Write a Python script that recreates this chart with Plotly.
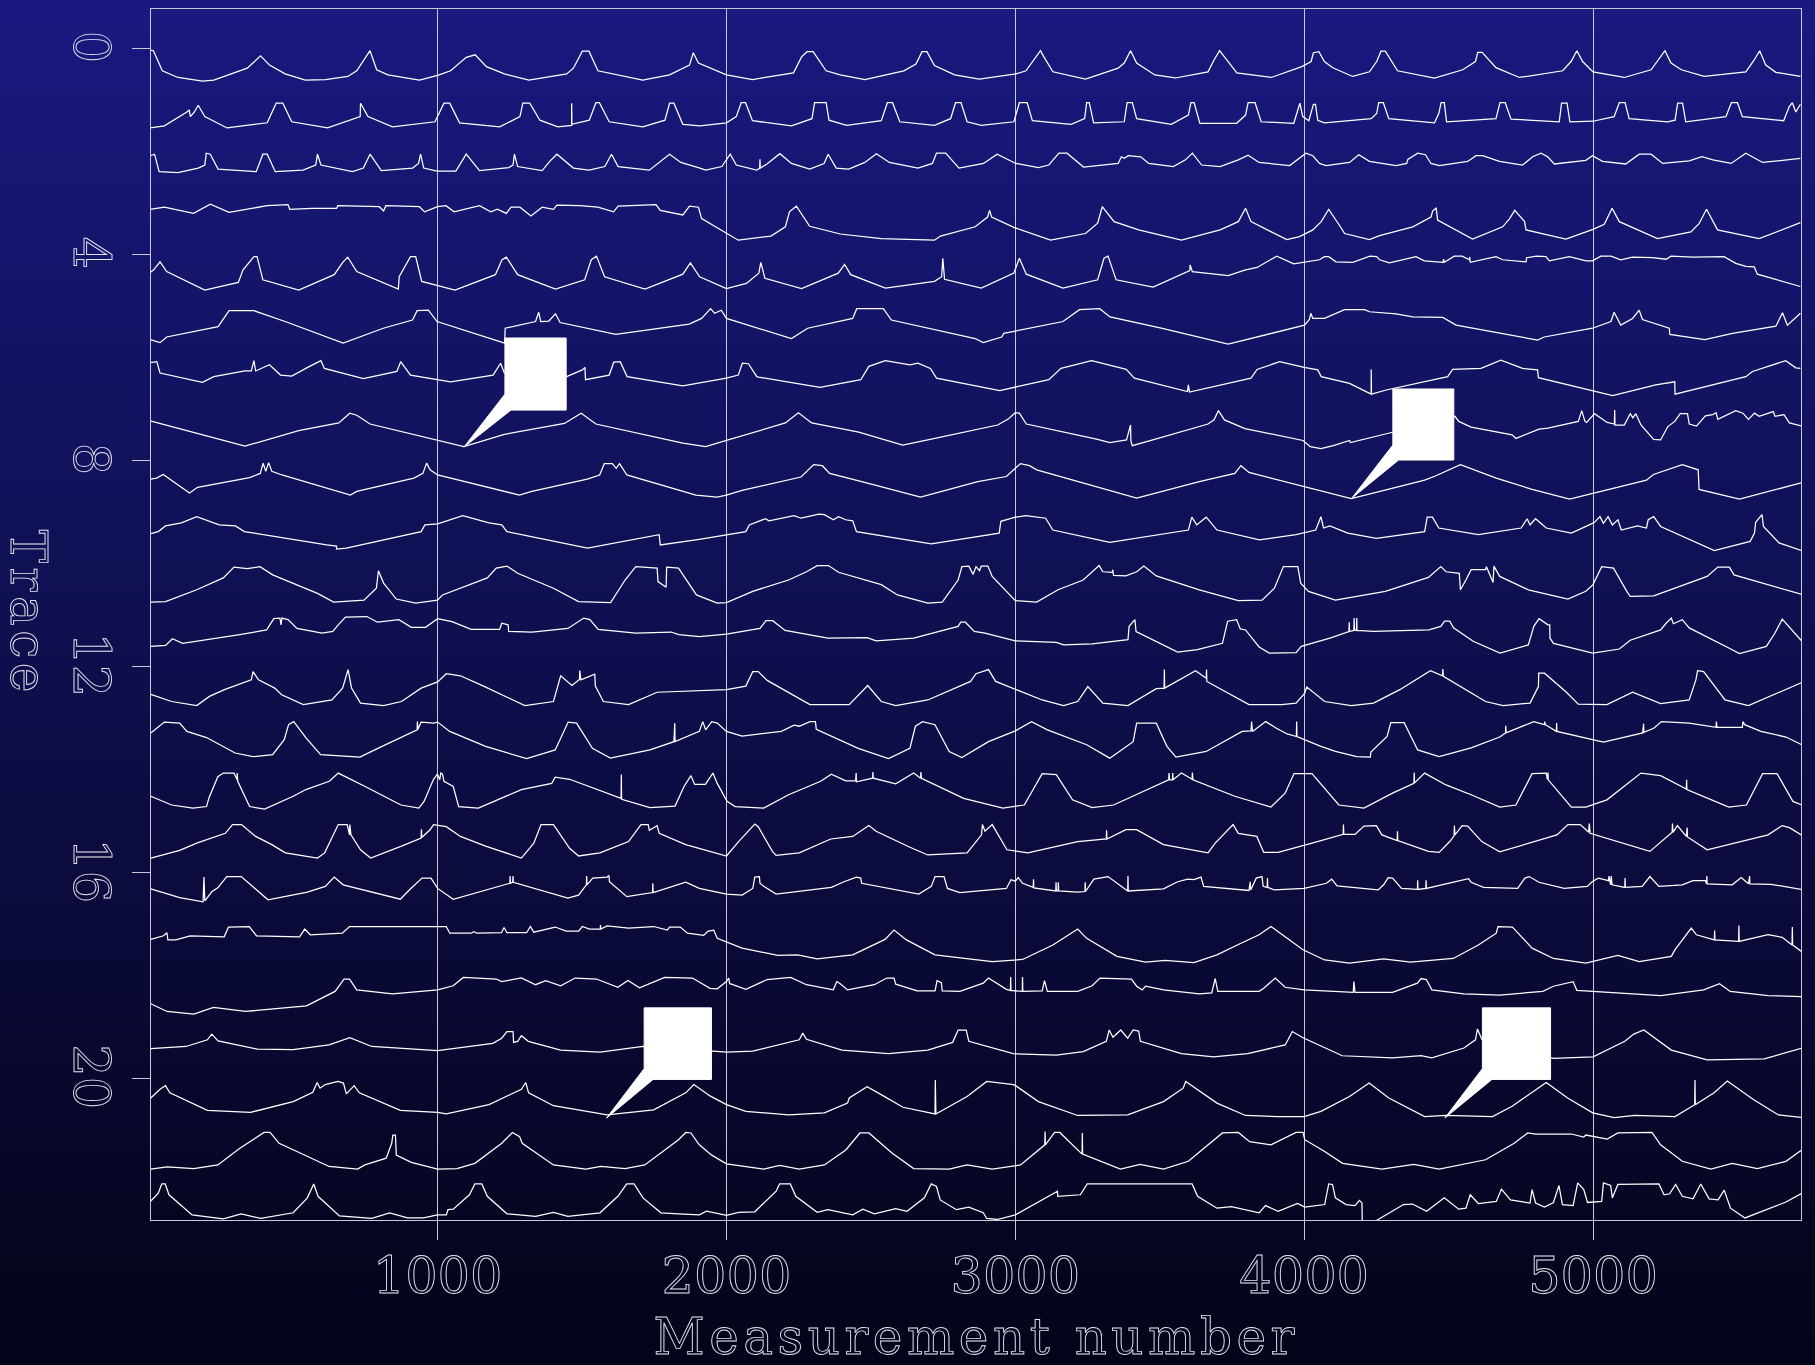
import plotly.graph_objects as go

# Each trace: (measurement number, offset below the trace's baseline tick in hundredths of a trace unit)
trace_00 = [(5,3),(16,4),(47,43),(101,56),(186,63),(225,61),(341,38),(387,14),(418,32),(472,49),(542,61),(612,60),(689,54),(720,43),(766,4),(789,41),(828,51),(937,61),(1000,52),(1045,43),(1099,17),(1130,12),(1169,35),(1231,49),(1316,61),(1447,49),(1470,38),(1501,5),(1524,5),(1555,43),(1710,61),(1803,51),(1872,32),(1885,8),(1903,28),(2000,51),(2090,60),(2232,47),(2260,16),(2279,6),(2300,6),(2345,43),(2394,51),(2479,60),(2614,43),(2656,30),(2677,6),(2694,6),(2720,33),(2790,51),(2875,59),(3002,49),(3037,43),(3066,19),(3087,4),(3102,19),(3130,45),(3243,59),(3356,38),(3377,28),(3399,4),(3420,28),(3483,51),(3554,57),(3667,45),(3688,22),(3707,4),(3724,16),(3767,47),(3886,56),(3992,35),(4024,25),(4032,8),(4051,6),(4070,25),(4099,37),(4168,54),(4226,45),(4251,25),(4266,5),(4281,5),(4323,43),(4451,57),(4549,41),(4593,25),(4601,7),(4616,7),(4664,37),(4745,56),(4895,43),(4924,25),(4944,4),(4964,25),(5000,45),(5108,56),(5201,41),(5235,16),(5249,4),(5270,28),(5306,41),(5385,54),(5529,45),(5558,22),(5577,4),(5598,32),(5633,46),(5718,54)]
trace_01 = [(5,54),(54,50),(132,23),(140,19),(144,32),(158,23),(171,10),(194,32),(271,54),(410,44),(441,6),(464,6),(495,42),(619,54),(732,32),(733,6),(759,32),(844,52),(991,42),(1022,6),(1042,6),(1076,44),(1215,52),(1285,32),(1295,6),(1319,6),(1354,39),(1416,52),(1464,49),(1464,6),(1465,47),(1525,39),(1548,5),(1560,5),(1594,42),(1710,52),(1787,39),(1803,6),(1818,6),(1849,47),(1908,50),(2000,44),(2034,32),(2051,5),(2066,5),(2090,40),(2225,50),(2296,36),(2305,5),(2345,5),(2355,39),(2416,49),(2536,40),(2557,5),(2575,5),(2600,42),(2720,49),(2776,36),(2793,5),(2812,5),(2833,42),(2882,49),(2995,42),(3014,5),(3041,5),(3059,40),(3193,47),(3240,36),(3247,5),(3256,5),(3271,44),(3377,42),(3387,5),(3405,5),(3420,36),(3540,47),(3599,29),(3608,5),(3619,5),(3639,45),(3766,45),(3797,29),(3806,5),(3830,5),(3851,42),(3964,45),(3985,6),(3995,32),(4016,40),(4032,8),(4039,8),(4047,39),(4070,44),(4232,36),(4251,26),(4258,5),(4274,5),(4293,36),(4451,44),(4466,26),(4474,5),(4485,5),(4493,42),(4664,36),(4678,5),(4696,5),(4716,37),(4883,42),(4891,6),(4910,6),(4920,42),(5000,41),(5073,32),(5091,5),(5111,5),(5125,36),(5258,42),(5284,39),(5293,6),(5310,6),(5321,42),(5460,32),(5479,5),(5500,5),(5517,32),(5660,40),(5679,13),(5690,5),(5702,23),(5718,8)]
trace_02 = [(5,8),(20,5),(36,39),(101,41),(171,32),(194,26),(199,3),(213,5),(240,34),(372,39),(395,5),(410,5),(438,39),(534,36),(578,26),(584,5),(596,26),(705,39),(743,32),(766,5),(805,37),(913,32),(934,23),(941,5),(952,32),(998,38),(1063,38),(1099,5),(1145,37),(1246,31),(1261,26),(1266,5),(1277,29),(1362,37),(1388,19),(1413,5),(1470,32),(1524,36),(1579,29),(1602,5),(1625,29),(1733,36),(1803,5),(1842,21),(1908,32),(1928,36),(1984,29),(2013,5),(2034,26),(2105,36),(2115,32),(2116,15),(2117,32),(2140,24),(2185,4),(2225,23),(2288,34),(2338,23),(2352,5),(2380,32),(2423,34),(2479,21),(2519,4),(2564,21),(2663,32),(2713,23),(2727,3),(2759,3),(2805,32),(2890,23),(2937,5),(3002,23),(3080,31),(3116,26),(3151,3),(3179,3),(3236,30),(3356,23),(3367,10),(3377,13),(3391,8),(3434,10),(3462,23),(3547,29),(3589,16),(3613,3),(3645,26),(3709,29),(3772,16),(3806,7),(3844,21),(3950,27),(4006,3),(4030,8),(4053,23),(4076,27),(4157,21),(4189,6),(4226,19),(4318,27),(4355,23),(4359,15),(4393,3),(4420,6),(4439,23),(4468,27),(4566,19),(4595,8),(4618,8),(4676,19),(4756,26),(4791,10),(4820,3),(4843,10),(4866,24),(4975,17),(4998,8),(5033,19),(5113,24),(5160,5),(5201,5),(5241,23),(5333,18),(5377,10),(5415,16),(5478,23),(5529,3),(5587,21),(5679,16),(5718,13)]
trace_03 = [(5,12),(54,8),(155,20),(213,2),(278,18),(410,5),(482,3),(488,12),(564,10),(650,10),(655,5),(798,7),(813,15),(821,5),(937,7),(955,17),(1000,7),(1029,5),(1057,17),(1145,5),(1184,17),(1207,12),(1238,20),(1254,8),(1285,8),(1323,25),(1362,8),(1401,12),(1413,4),(1493,5),(1555,8),(1609,17),(1625,6),(1756,3),(1771,14),(1849,23),(1872,6),(1903,8),(1914,30),(2041,72),(2154,64),(2204,46),(2218,17),(2242,6),(2288,45),(2394,60),(2536,69),(2720,72),(2741,64),(2861,46),(2904,27),(2911,14),(2918,27),(2995,47),(3122,72),(3243,59),(3285,39),(3301,7),(3342,36),(3427,52),(3575,72),(3709,52),(3772,36),(3797,10),(3816,36),(3940,71),(3984,65),(4030,52),(4059,36),(4085,12),(4122,43),(4140,59),(4226,71),(4261,63),(4376,46),(4439,27),(4445,15),(4457,10),(4462,33),(4583,70),(4687,46),(4710,31),(4729,14),(4763,36),(4768,52),(4906,70),(5000,51),(5039,41),(5066,10),(5091,36),(5223,69),(5339,56),(5367,40),(5393,12),(5431,52),(5575,69),(5718,38)]
trace_04 = [(5,35),(16,30),(39,14),(62,33),(194,69),(310,54),(326,30),(364,4),(375,4),(395,49),(519,69),(642,39),(673,14),(689,5),(720,33),(864,67),(867,43),(906,4),(924,4),(945,52),(1060,69),(1200,39),(1223,10),(1238,5),(1277,39),(1408,67),(1509,49),(1532,10),(1550,3),(1578,43),(1718,67),(1849,38),(1875,16),(1907,43),(2000,66),(2069,56),(2112,36),(2119,15),(2133,46),(2260,66),(2387,36),(2409,19),(2430,39),(2550,65),(2720,52),(2745,43),(2749,7),(2755,48),(2882,65),(2995,36),(3014,7),(3038,38),(3165,65),(3285,49),(3307,7),(3321,3),(3349,49),(3477,63),(3604,31),(3605,20),(3613,33),(3737,41),(3794,30),(3837,25),(3905,3),(3964,18),(4053,10),(4070,4),(4085,4),(4110,14),(4168,15),(4228,3),(4251,4),(4261,10),(4295,16),(4387,4),(4416,12),(4480,15),(4483,9),(4485,15),(4520,3),(4547,3),(4572,10),(4573,5),(4575,15),(4664,4),(4687,10),(4768,14),(4770,6),(4805,3),(4837,4),(4849,12),(4918,4),(4976,12),(4998,12),(5027,3),(5062,3),(5096,10),(5137,5),(5206,6),(5253,9),(5270,3),(5345,5),(5454,4),(5494,17),(5529,23),(5558,24),(5569,38),(5718,62)]
trace_05 = [(5,65),(39,71),(62,60),(240,40),(278,9),(364,9),(472,30),(673,72),(812,43),(913,27),(929,9),(968,8),(998,30),(1232,72),(1234,43),(1339,30),(1350,12),(1357,30),(1385,29),(1393,24),(1408,15),(1424,32),(1617,55),(1772,43),(1871,35),(1914,24),(1945,5),(1959,14),(1982,8),(2000,24),(2225,63),(2281,43),(2437,24),(2451,5),(2465,5),(2543,5),(2571,27),(2861,63),(2889,71),(2953,60),(2960,53),(3165,30),(3222,7),(3292,5),(3328,21),(3505,43),(3737,74),(4001,37),(4018,26),(4023,14),(4030,24),(4070,24),(4140,7),(4209,7),(4226,11),(4318,15),(4376,21),(4480,22),(4526,37),(4808,66),(4831,60),(4998,43),(5062,30),(5073,12),(5096,37),(5137,24),(5160,8),(5171,26),(5264,43),(5266,55),(5387,65),(5483,53),(5633,39),(5656,13),(5673,37),(5718,14)]
trace_06 = [(5,10),(28,8),(39,30),(186,48),(225,37),(333,26),(355,26),(364,6),(370,26),(418,14),(456,34),(495,36),(550,19),(596,6),(608,21),(743,41),(859,27),(872,8),(906,34),(1045,47),(1192,34),(1218,11),(1231,30),(1447,37),(1501,24),(1510,19),(1512,43),(1540,40),(1594,34),(1610,9),(1632,8),(1656,37),(1849,55),(2000,40),(2041,34),(2055,11),(2076,12),(2105,37),(2112,38),(2324,58),(2465,43),(2493,17),(2550,6),(2635,14),(2663,11),(2706,21),(2727,40),(2946,64),(3116,43),(3158,21),(3264,6),(3384,23),(3412,40),(3596,66),(3599,53),(3603,67),(3816,40),(3837,23),(3915,8),(4000,19),(4047,24),(4059,37),(4157,50),(4232,71),(4232,23),(4233,71),(4284,63),(4497,37),(4514,23),(4612,21),(4681,5),(4756,21),(4808,24),(4811,39),(5068,74),(5217,53),(5283,47),(5284,71),(5529,37),(5552,27),(5667,6),(5702,20),(5718,21)]
trace_07 = [(5,23),(333,72),(519,42),(658,27),(696,8),(720,12),(766,29),(1091,73),(1231,49),(1339,38),(1439,28),(1497,8),(1548,29),(1849,66),(1928,73),(2000,61),(2204,27),(2249,7),(2295,27),(2458,45),(2550,60),(2610,70),(2697,60),(2939,31),(2974,20),(3000,7),(3014,8),(3038,29),(3285,59),(3327,65),(3385,60),(3399,31),(3400,62),(3405,71),(3476,60),(3667,29),(3688,21),(3703,3),(3724,21),(3795,38),(3996,61),(4021,73),(4058,77),(4101,71),(4157,61),(4160,65),(4299,46),(4522,14),(4535,24),(4578,35),(4720,50),(4733,57),(4813,39),(4844,37),(4949,24),(4961,3),(4972,24),(4978,26),(5005,9),(5049,26),(5074,29),(5075,2),(5076,31),(5108,31),(5129,9),(5138,17),(5148,9),(5166,31),(5210,59),(5234,60),(5259,34),(5283,24),(5302,9),(5327,9),(5333,29),(5358,33),(5389,13),(5414,11),(5426,7),(5432,20),(5494,3),(5519,8),(5538,20),(5559,8),(5575,14),(5624,5),(5630,14),(5661,11),(5680,27),(5723,33)]
trace_08 = [(7,36),(27,34),(50,27),(77,38),(141,63),(169,52),(262,42),(349,33),(386,25),(396,5),(405,21),(415,4),(426,21),(461,28),(698,67),(720,60),(918,34),(949,25),(962,5),(974,18),(1000,28),(1283,67),(1326,60),(1518,36),(1561,28),(1577,6),(1605,6),(1618,15),(1630,6),(1655,28),(1894,67),(1968,71),(2000,67),(2054,58),(2258,32),(2302,8),(2332,10),(2357,25),(2475,42),(2672,71),(2870,41),(2969,31),(3000,15),(3018,6),(3049,10),(3074,18),(3420,73),(3637,41),(3760,25),(3781,10),(3809,23),(3844,28),(3996,49),(4163,74),(4417,38),(4454,30),(4541,8),(4665,34),(4789,56),(4919,75),(5185,38),(5209,27),(5309,8),(5364,18),(5367,56),(5507,75),(5723,43)]
trace_09 = [(7,42),(33,38),(58,27),(113,21),(166,9),(244,25),(300,27),(331,38),(616,64),(650,66),(650,72),(684,70),(943,38),(956,25),(1000,23),(1087,7),(1178,21),(1222,25),(1240,38),(1519,70),(1767,44),(1771,64),(1906,53),(2000,44),(2067,38),(2079,25),(2135,13),(2147,17),(2234,7),(2258,12),(2320,4),(2339,5),(2370,15),(2388,9),(2413,15),(2437,17),(2450,38),(2709,62),(2944,41),(2950,18),(3000,10),(3037,7),(3105,12),(3130,35),(3327,59),(3599,35),(3611,10),(3628,25),(3661,10),(3698,35),(3845,54),(3972,44),(4040,35),(4058,9),(4067,31),(4089,27),(4151,41),(4250,51),(4417,38),(4426,10),(4444,10),(4466,31),(4603,44),(4751,31),(4772,13),(4782,25),(4801,13),(4838,31),(4925,41),(4987,25),(5005,20),(5024,9),(5036,22),(5052,9),(5067,25),(5086,15),(5098,35),(5154,27),(5185,31),(5191,15),(5210,9),(5234,28),(5420,75),(5544,57),(5559,41),(5563,20),(5585,5),(5590,28),(5644,60),(5723,75)]
trace_10 = [(7,75),(58,74),(166,51),(258,28),(295,7),(341,10),(385,6),(429,22),(584,58),(640,75),(745,71),(788,48),(795,14),(813,38),(857,69),(924,77),(1000,71),(1017,61),(1172,28),(1203,9),(1240,5),(1277,19),(1401,48),(1488,74),(1599,76),(1649,32),(1686,6),(1760,9),(1763,35),(1791,46),(1793,7),(1834,9),(1896,61),(1968,77),(2000,76),(2091,54),(2215,32),(2277,16),(2314,4),(2353,4),(2388,17),(2536,41),(2592,61),(2697,77),(2747,75),(2802,32),(2815,6),(2839,5),(2854,21),(2864,6),(2876,14),(2882,5),(2905,5),(2920,25),(3000,72),(3074,75),(3148,51),(3235,32),(3290,4),(3303,16),(3336,17),(3337,12),(3340,23),(3383,24),(3420,16),(3445,5),(3488,24),(3637,51),(3772,72),(3854,71),(3897,48),(3928,6),(3978,6),(3988,38),(4015,54),(4108,71),(4281,54),(4430,27),(4473,6),(4491,16),(4537,19),(4541,51),(4560,32),(4578,12),(4628,12),(4631,6),(4639,17),(4654,37),(4657,5),(4677,25),(4776,51),(4913,69),(4975,54),(5000,41),(5030,6),(5071,9),(5117,54),(5129,64),(5210,63),(5395,25),(5432,7),(5472,7),(5488,22),(5723,60)]
trace_11 = [(7,61),(58,59),(82,46),(117,55),(315,38),(408,29),(433,7),(454,6),(458,19),(461,6),(482,9),(513,26),(600,35),(637,32),(656,19),(681,4),(755,3),(792,14),(866,9),(909,24),(958,24),(1000,7),(1050,13),(1116,28),(1215,28),(1222,16),(1244,19),(1246,32),(1327,33),(1451,26),(1506,6),(1527,9),(1556,28),(1686,35),(1808,33),(1835,38),(1906,42),(2000,37),(2116,26),(2137,11),(2160,11),(2203,30),(2351,45),(2487,44),(2518,50),(2648,45),(2802,22),(2811,14),(2827,14),(2858,32),(2895,35),(3000,50),(3142,53),(3167,58),(3266,56),(3390,48),(3394,22),(3414,9),(3418,32),(3562,72),(3630,67),(3717,55),(3735,12),(3766,9),(3779,27),(3797,29),(3844,62),(3879,74),(3972,73),(3990,61),(4089,45),(4155,32),(4156,14),(4157,32),(4172,30),(4173,6),(4174,29),(4181,30),(4182,6),(4183,30),(4240,32),(4432,29),(4473,22),(4486,12),(4504,12),(4517,25),(4585,51),(4678,74),(4776,58),(4795,22),(4813,7),(4844,19),(4850,19),(4851,45),(4863,55),(4999,74),(5091,66),(5129,49),(5234,29),(5253,16),(5271,6),(5278,17),(5309,9),(5333,25),(5470,64),(5507,75),(5600,61),(5630,35),(5655,8),(5723,51)]
trace_12 = [(7,54),(79,68),(166,76),(210,58),(262,45),(355,26),(361,10),(380,26),(436,42),(460,55),(535,74),(634,65),(671,42),(690,6),(702,42),(733,71),(813,76),(875,68),(943,42),(1000,30),(1030,14),(1079,18),(1159,38),(1302,76),(1401,68),(1426,18),(1465,37),(1491,25),(1492,8),(1496,26),(1544,15),(1546,38),(1574,68),(1661,74),(1760,50),(1906,47),(2000,45),(2067,38),(2091,10),(2110,10),(2141,27),(2289,74),(2425,74),(2489,37),(2536,68),(2586,76),(2697,65),(2845,29),(2864,14),(2907,6),(2932,29),(3093,65),(3167,76),(3216,68),(3251,39),(3303,71),(3390,76),(3488,43),(3515,42),(3516,6),(3517,42),(3624,8),(3661,23),(3662,6),(3663,29),(3809,74),(3922,74),(3972,71),(4002,52),(4009,40),(4071,68),(4163,76),(4240,71),(4331,45),(4437,8),(4479,18),(4480,5),(4482,19),(4628,68),(4689,76),(4782,71),(4811,39),(4812,13),(4832,13),(4906,49),(4949,73),(5048,74),(5137,50),(5234,72),(5333,65),(5356,26),(5362,8),(5383,10),(5457,65),(5538,76),(5723,31)]
trace_13 = [(7,29),(54,8),(107,10),(132,26),(200,38),(299,68),(361,75),(429,71),(469,42),(484,13),(502,7),(545,39),(595,71),(731,76),(793,59),(910,28),(929,23),(930,7),(932,22),(943,8),(986,10),(1000,8),(1042,26),(1166,55),(1308,79),(1407,62),(1438,23),(1452,8),(1481,10),(1536,59),(1598,78),(1735,62),(1818,46),(1821,10),(1822,46),(1906,26),(1918,7),(1928,23),(1949,7),(1968,10),(2000,26),(2054,35),(2190,26),(2234,14),(2252,16),(2289,7),(2308,7),(2311,22),(2456,59),(2561,79),(2635,59),(2654,16),(2679,7),(2722,13),(2771,65),(2815,77),(2907,46),(3000,25),(3056,7),(3111,23),(3247,52),(3327,78),(3408,46),(3420,10),(3488,10),(3525,55),(3556,76),(3661,65),(3785,26),(3816,25),(3818,7),(3821,26),(3867,7),(3904,20),(3941,31),(3973,36),(3974,7),(3975,36),(4058,55),(4108,65),(4182,75),(4229,76),(4231,66),(4287,36),(4300,9),(4346,9),(4393,62),(4467,75),(4578,58),(4677,37),(4697,29),(4698,15),(4699,29),(4795,7),(4832,13),(4833,7),(4835,13),(4873,26),(4874,10),(4875,26),(5036,47),(5172,29),(5175,11),(5176,28),(5210,20),(5237,7),(5333,10),(5426,18),(5427,7),(5429,18),(5517,18),(5519,7),(5525,13),(5581,26),(5668,37),(5723,52)]
trace_14 = [(7,52),(79,69),(153,75),(200,72),(208,56),(239,14),(258,7),(295,7),(306,20),(306,7),(308,23),(349,72),(401,77),(500,52),(544,39),(625,23),(656,7),(749,33),(873,69),(935,75),(953,62),(985,20),(999,9),(1007,20),(1011,7),(1017,9),(1022,23),(1054,33),(1073,72),(1141,75),(1290,39),(1395,27),(1407,15),(1457,19),(1635,56),(1636,10),(1637,58),(1735,74),(1822,71),(1853,33),(1877,12),(1890,29),(1927,29),(1953,7),(1968,27),(2002,62),(2030,72),(2129,75),(2215,49),(2326,23),(2363,9),(2413,22),(2447,22),(2449,7),(2450,24),(2506,17),(2507,5),(2508,17),(2586,28),(2648,7),(2672,17),(2673,5),(2675,17),(2821,56),(2957,75),(3031,69),(3093,8),(3142,10),(3198,59),(3266,74),(3340,69),(3531,20),(3532,7),(3534,20),(3544,20),(3545,7),(3546,20),(3575,7),(3612,19),(3613,6),(3615,20),(3760,52),(3885,73),(3934,46),(3965,8),(4027,8),(4120,69),(4207,75),(4306,46),(4380,27),(4381,6),(4382,26),(4417,7),(4491,30),(4578,49),(4677,73),(4733,69),(4789,8),(4838,7),(4842,19),(4844,6),(4845,20),(4925,73),(4975,73),(5048,59),(5166,7),(5234,12),(5323,38),(5324,20),(5325,39),(5470,73),(5531,69),(5587,8),(5637,8),(5692,62),(5723,69)]
trace_15 = [(7,72),(107,57),(166,43),(265,24),(290,7),(321,7),(370,30),(426,46),(473,62),(584,72),(609,62),(656,7),(687,7),(695,27),(696,7),(700,27),(733,56),(768,72),(875,49),(943,33),(944,16),(945,32),(974,17),(986,7),(1030,11),(1079,30),(1166,49),(1290,72),(1333,43),(1358,7),(1401,7),(1457,53),(1488,68),(1562,62),(1661,40),(1704,7),(1729,7),(1733,18),(1760,9),(1767,24),(1859,46),(2000,68),(2042,40),(2098,6),(2110,11),(2159,59),(2172,67),(2252,62),(2361,35),(2437,30),(2493,9),(2518,20),(2635,51),(2697,66),(2833,62),(2883,27),(2886,7),(2895,20),(2920,7),(2944,30),(2971,56),(3043,62),(3216,40),(3315,35),(3316,18),(3317,35),(3383,17),(3420,17),(3513,46),(3667,62),(3692,43),(3754,7),(3772,24),(3811,27),(3836,30),(3860,61),(3910,61),(4046,40),(4135,26),(4136,7),(4137,26),(4176,26),(4207,10),(4250,9),(4269,27),(4322,38),(4323,20),(4324,38),(4430,59),(4467,61),(4504,40),(4519,29),(4520,9),(4522,27),(4547,9),(4566,10),(4615,40),(4677,60),(4875,27),(4913,7),(4956,7),(4985,22),(4987,5),(4990,24),(5197,59),(5247,36),(5274,22),(5275,5),(5277,22),(5292,9),(5323,30),(5326,13),(5327,31),(5395,56),(5606,27),(5655,9),(5680,13),(5723,28)]
trace_16 = [(7,32),(107,49),(188,57),(191,9),(194,55),(219,37),(239,30),(270,8),(320,8),(376,34),(413,53),(549,38),(611,27),(642,9),(673,24),(871,52),(902,34),(946,11),(977,11),(1000,31),(1054,52),(1250,21),(1251,7),(1252,21),(1260,19),(1261,7),(1262,19),(1451,50),(1488,44),(1515,24),(1516,7),(1517,24),(1537,11),(1587,9),(1593,6),(1595,18),(1655,47),(1744,39),(1745,21),(1746,39),(1859,19),(1906,31),(2000,42),(2054,44),(2091,31),(2098,9),(2114,8),(2116,21),(2129,27),(2172,42),(2363,29),(2407,18),(2450,9),(2465,11),(2468,21),(2666,42),(2709,27),(2722,8),(2753,8),(2765,31),(2808,39),(2969,31),(2985,14),(3000,17),(3010,10),(3025,21),(3062,29),(3063,13),(3064,30),(3140,36),(3141,19),(3142,36),(3148,36),(3149,19),(3150,36),(3216,38),(3241,37),(3242,19),(3243,37),(3272,13),(3321,8),(3389,36),(3390,7),(3391,36),(3513,32),(3562,18),(3597,13),(3618,14),(3643,9),(3652,27),(3809,35),(3813,18),(3815,34),(3834,11),(3854,8),(3858,27),(3872,29),(3873,11),(3874,29),(3897,34),(4000,31),(4077,21),(4095,13),(4114,26),(4256,34),(4275,24),(4291,10),(4306,11),(4337,31),(4392,33),(4393,15),(4394,33),(4421,31),(4422,15),(4423,31),(4491,22),(4553,14),(4569,12),(4578,19),(4621,29),(4739,31),(4764,11),(4779,8),(4813,19),(4900,31),(4980,27),(4997,18),(5018,11),(5054,16),(5055,7),(5061,24),(5063,7),(5066,24),(5110,29),(5111,11),(5112,29),(5170,27),(5197,8),(5228,27),(5309,24),(5346,16),(5389,16),(5393,22),(5394,7),(5395,22),(5482,24),(5513,10),(5538,22),(5542,7),(5543,22),(5617,23),(5723,33)]
trace_17 = [(7,30),(51,23),(63,17),(66,31),(94,31),(143,23),(261,25),(276,6),(348,5),(373,23),(522,25),(540,10),(559,21),(670,18),(695,5),(1030,5),(1042,18),(1116,18),(1126,15),(1135,18),(1221,17),(1230,7),(1240,17),(1308,17),(1321,5),(1333,16),(1407,6),(1445,14),(1488,14),(1501,5),(1526,10),(1563,10),(1564,2),(1565,10),(1587,4),(1661,8),(1748,5),(1795,12),(1803,6),(1840,6),(1865,18),(1921,22),(1937,14),(1956,12),(1968,28),(2054,47),(2178,61),(2246,60),(2314,68),(2437,60),(2549,30),(2580,12),(2623,31),(2722,60),(2920,73),(3025,69),(3130,41),(3216,10),(3247,28),(3352,63),(3451,74),(3519,71),(3618,75),(3698,60),(3772,40),(3844,21),(3885,5),(3916,18),(3996,50),(4071,70),(4157,76),(4275,68),(4368,74),(4516,67),(4603,41),(4665,18),(4671,5),(4721,6),(4789,47),(4863,67),(4975,76),(5086,61),(5160,73),(5271,63),(5284,50),(5340,8),(5358,21),(5420,31),(5421,13),(5422,31),(5504,34),(5505,3),(5506,34),(5606,21),(5655,26),(5689,41),(5690,6),(5691,41),(5723,54)]
trace_18 = [(7,55),(63,70),(156,75),(224,62),(335,70),(434,65),(546,59),(645,31),(676,7),(695,7),(720,28),(844,36),(1000,28),(1054,20),(1089,4),(1203,7),(1222,12),(1290,5),(1339,18),(1374,10),(1426,20),(1476,5),(1550,7),(1624,23),(1659,10),(1699,24),(1786,4),(1882,5),(1943,25),(1968,26),(2000,12),(2008,5),(2011,16),(2017,17),(2067,27),(2141,8),(2222,4),(2277,18),(2370,28),(2382,12),(2394,16),(2419,28),(2512,18),(2555,5),(2580,5),(2586,17),(2660,30),(2722,30),(2729,10),(2744,14),(2747,30),(2808,31),(2889,15),(2907,5),(2969,27),(2983,29),(2984,3),(2985,29),(3024,31),(3025,3),(3026,31),(3093,30),(3101,10),(3111,31),(3216,31),(3266,20),(3293,5),(3402,7),(3420,21),(3439,28),(3451,21),(3513,28),(3637,36),(3680,34),(3692,6),(3701,31),(3844,31),(3860,25),(3900,5),(3934,23),(4000,28),(4170,33),(4172,12),(4176,33),(4306,33),(4392,15),(4405,6),(4423,8),(4442,28),(4553,36),(4677,38),(4826,31),(4863,21),(4931,12),(4944,29),(5234,39),(5383,28),(5438,16),(5475,31),(5606,39),(5723,41)]
trace_19 = [(7,42),(129,38),(203,25),(218,14),(240,27),(376,43),(500,44),(624,35),(696,21),(772,38),(1000,46),(1191,32),(1222,22),(1240,9),(1261,9),(1263,30),(1277,28),(1290,17),(1314,28),(1426,45),(1562,49),(1711,38),(1906,45),(2000,49),(2091,47),(2252,25),(2264,12),(2277,24),(2400,45),(2561,52),(2697,45),(2783,30),(2802,6),(2830,6),(2839,28),(2993,52),(3142,55),(3235,48),(3315,28),(3325,6),(3338,20),(3365,6),(3389,22),(3408,6),(3427,8),(3433,28),(3575,52),(3686,58),(3804,52),(3934,35),(3944,25),(3959,9),(3996,21),(4132,56),(4306,60),(4405,56),(4442,60),(4553,41),(4593,25),(4600,4),(4615,24),(4863,61),(5000,58),(5110,28),(5141,14),(5176,6),(5271,45),(5395,64),(5593,62),(5723,41)]
trace_20 = [(7,38),(39,21),(58,14),(73,28),(203,62),(352,66),(500,45),(568,27),(583,8),(593,19),(611,12),(655,6),(674,9),(680,25),(684,30),(711,14),(729,28),(871,62),(1000,66),(1030,69),(1178,51),(1290,21),(1305,8),(1315,28),(1401,53),(1587,71),(1748,61),(1859,28),(1887,12),(1943,34),(2000,51),(2067,64),(2215,71),(2339,67),(2419,48),(2425,38),(2487,16),(2543,34),(2611,56),(2722,69),(2723,3),(2725,69),(2833,35),(2901,6),(2994,12),(3006,16),(3080,45),(3216,72),(3389,71),(3513,45),(3581,19),(3590,6),(3698,48),(3797,72),(3910,74),(4000,74),(4058,64),(4157,35),(4225,9),(4293,38),(4417,74),(4491,72),(4652,74),(4720,54),(4838,8),(4912,38),(4999,67),(5073,76),(5145,72),(5284,74),(5352,51),(5353,3),(5354,51),(5419,28),(5465,5),(5555,41),(5642,71),(5723,76)]
trace_21 = [(7,76),(63,72),(156,75),(239,68),(314,36),(399,5),(420,5),(451,26),(513,42),(624,71),(723,76),(748,68),(822,55),(841,26),(845,10),(854,10),(857,49),(909,63),(1000,76),(1067,75),(1129,65),(1222,26),(1259,5),(1284,13),(1293,26),(1401,68),(1513,76),(1565,71),(1649,75),(1717,68),(1834,19),(1859,5),(1877,6),(1906,29),(1949,49),(2000,66),(2129,76),(2184,69),(2252,76),(2339,68),(2413,39),(2462,6),(2493,6),(2573,45),(2648,75),(2771,76),(2833,68),(2920,76),(3018,68),(3102,29),(3103,3),(3104,29),(3136,5),(3154,5),(3231,47),(3232,6),(3233,47),(3364,76),(3432,67),(3513,76),(3599,61),(3717,6),(3772,5),(3811,23),(3885,29),(3972,5),(3996,5),(4002,19),(4071,42),(4133,65),(4269,76),(4380,67),(4467,76),(4628,58),(4727,26),(4774,6),(4801,8),(4925,8),(4968,14),(4975,10),(5049,18),(5086,6),(5204,5),(5234,29),(5309,61),(5408,76),(5482,65),(5569,75),(5668,61),(5723,39)]
trace_22 = [(7,38),(33,23),(45,5),(57,5),(70,26),(150,65),(258,73),(320,63),(388,72),(500,61),(549,32),(571,5),(586,29),(660,67),(772,72),(834,61),(896,71),(951,71),(1000,65),(1030,65),(1036,55),(1054,54),(1110,26),(1129,5),(1153,5),(1172,29),(1240,63),(1339,68),(1401,60),(1451,68),(1562,61),(1624,29),(1655,5),(1680,5),(1711,32),(1773,61),(1834,63),(1906,65),(1931,58),(2000,66),(2042,60),(2098,59),(2172,19),(2184,5),(2221,5),(2240,29),(2314,60),(2351,55),(2437,65),(2472,54),(2512,63),(2586,53),(2625,58),(2685,32),(2709,5),(2727,10),(2740,36),(2796,55),(2839,50),(2889,61),(2901,72),(2938,74),(3000,65),(3146,19),(3147,29),(3225,26),(3249,5),(3612,5),(3631,29),(3698,52),(3748,49),(3844,61),(3866,47),(3910,58),(3977,43),(4002,50),(4071,45),(4085,5),(4098,6),(4108,32),(4145,45),(4176,47),(4191,37),(4200,42),(4201,76),(4250,76),(4344,45),(4375,44),(4424,58),(4485,32),(4535,54),(4560,52),(4575,26),(4603,43),(4665,39),(4683,15),(4714,36),(4782,42),(4789,16),(4801,42),(4832,50),(4863,41),(4882,8),(4894,45),(4931,47),(4947,3),(4968,16),(4981,41),(5030,39),(5036,3),(5061,8),(5067,32),(5086,6),(5228,5),(5246,26),(5265,24),(5286,6),(5309,29),(5346,34),(5373,5),(5402,34),(5433,36),(5454,17),(5476,52),(5526,71),(5668,40),(5723,23)]

all_traces = [trace_00, trace_01, trace_02, trace_03, trace_04, trace_05, trace_06, trace_07,
              trace_08, trace_09, trace_10, trace_11, trace_12, trace_13, trace_14, trace_15,
              trace_16, trace_17, trace_18, trace_19, trace_20, trace_21, trace_22]

x_ticks = [1000, 2000, 3000, 4000, 5000]
y_ticks = [0, 4, 8, 12, 16, 20]

# Blank white callouts: left, right, tail base right, tip measurement numbers; top, bottom, tail base, tip trace positions
callout_left = [1233, 4307, 1715, 4617]
callout_right = [1445, 4518, 1948, 4853]
callout_base = [1254, 4327, 1746, 4650]
callout_tip_x = [1091, 4165, 1585, 4487]
callout_top = [5.62, 6.61, 18.63, 18.63]
callout_bottom = [7.02, 7.99, 20.02, 20.02]
callout_shoulder = [6.71, 7.70, 19.81, 19.81]
callout_tip_y = [7.74, 8.73, 20.77, 20.77]

W, H = 1815, 1365
FONT = "DejaVu Serif"
LINE = "#ffffff"
AXIS = "#c8c8d8"

fig = go.Figure()
for k, tr in enumerate(all_traces):
    fig.add_trace(go.Scatter(x=[p[0] for p in tr], y=[k + p[1] / 100 for p in tr], mode="lines",
                             line=dict(color=LINE, width=1.25), name=f"Trace {k}", hoverinfo="skip"))
for i in range(4):
    fig.add_trace(go.Scatter(
        x=[callout_left[i], callout_right[i], callout_right[i], callout_base[i], callout_tip_x[i], callout_left[i], callout_left[i]],
        y=[callout_top[i], callout_top[i], callout_bottom[i], callout_bottom[i], callout_tip_y[i], callout_shoulder[i], callout_top[i]],
        mode="lines", fill="toself", fillcolor="white", line=dict(color="white", width=1), hoverinfo="skip"))

# Vertical background gradient
step = 5
shapes = []
for top in range(0, H, step):
    t = top / H
    r = round(25 + (3 - 25) * t)
    b = round(128 + (24 - 128) * t)
    shapes.append(dict(type="rect", xref="paper", yref="paper", layer="below", line_width=0,
                       x0=0, x1=1, y0=1 - (top + step) / H, y1=1 - top / H,
                       fillcolor=f"rgb({r},{r},{b})"))

fig.update_layout(
    width=W, height=H, autosize=False, showlegend=False, hovermode=False,
    margin=dict(l=0, r=0, t=0, b=0), paper_bgcolor="#000020", plot_bgcolor="rgba(0,0,0,0)",
    shapes=shapes,
    xaxis=dict(domain=[150.5 / W, 1801 / W], range=[6, 5720], tickvals=x_ticks, ticks="outside", ticklen=19,
               tickcolor=AXIS, tickwidth=1, showgrid=True, gridcolor=AXIS, gridwidth=1, zeroline=False,
               showline=True, linecolor=AXIS, linewidth=1, mirror=True, automargin=False,
               ticklabelstandoff=-8, tickfont=dict(family=FONT, size=51, color=AXIS)),
    yaxis=dict(domain=[1 - 1220 / H, 1 - 9 / H], range=[22.75, -0.77], tickvals=y_ticks, ticks="outside", ticklen=18,
               tickcolor=AXIS, tickwidth=1, showgrid=False, zeroline=False, showline=True, linecolor=AXIS,
               linewidth=1, mirror=True, automargin=False, tickangle=90, ticklabelstandoff=-4, ticklabelshift=-6,
               tickfont=dict(family=FONT, size=51, color=AXIS)),
    annotations=[
        dict(text="Measurement number", xref="paper", yref="paper", x=976 / W, y=1 - 1337 / H, showarrow=False,
             xanchor="center", yanchor="middle", font=dict(family=FONT, size=50, color=AXIS)),
        dict(text="Trace", xref="paper", yref="paper", x=28 / W, y=1 - 613 / H, showarrow=False, textangle=90,
             xanchor="center", yanchor="middle", font=dict(family=FONT, size=50, color=AXIS)),
    ],
)

post = """
document.body.style.margin = '0';
document.querySelectorAll('.xtick text, .ytick text, .annotation text').forEach(function (t) {
  t.style.fill = 'none'; t.style.stroke = '#e4e4ec'; t.style.strokeWidth = '0.9px';
});
document.querySelectorAll('.annotation text').forEach(function (t) { t.style.letterSpacing = '4.5px'; });
"""
fig.write_html("out.html", post_script=post, config={"displayModeBar": False})
